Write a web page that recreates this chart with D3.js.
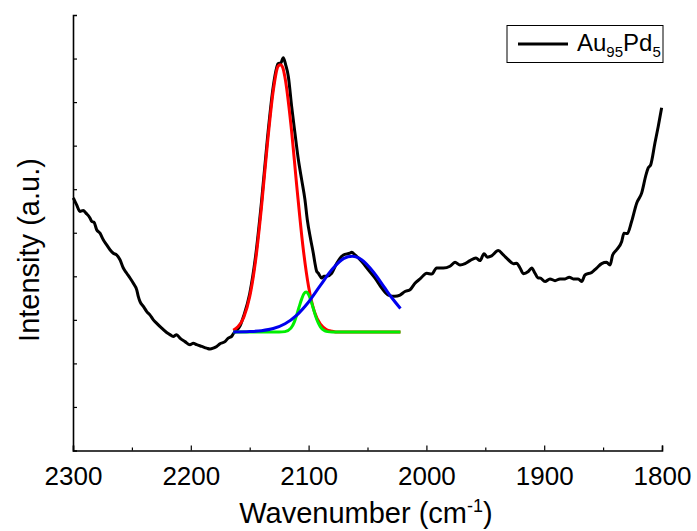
<!DOCTYPE html>
<html>
<head>
<meta charset="utf-8">
<script src="https://cdn.jsdelivr.net/npm/d3@7"></script>
<style>
  html, body { margin: 0; padding: 0; background: #fff; }
  svg { display: block; font-family: "Liberation Sans", Arial, sans-serif; }
</style>
</head>
<body>
<svg id="chart" width="697" height="531"></svg>
<script>
// Measured IR spectrum of CO adsorbed on Au95Pd5: [wavenumber (cm-1), intensity (a.u.)]
const spectrum = [
  [2299.7,58.0],[2296.9,56.4],[2294.1,54.9],[2291.3,55.1],[2289.0,54.5],[2285.6,53.4],
  [2284.1,52.6],[2282.2,52.4],[2279.9,50.7],[2277.1,49.9],[2274.3,48.4],[2271.4,47.2],
  [2268.6,46.1],[2265.8,45.3],[2262.9,44.9],[2260.1,43.8],[2257.3,41.9],[2254.4,40.7],
  [2251.6,39.6],[2248.8,38.4],[2245.9,36.9],[2244.6,35.4],[2243.1,34.2],[2240.3,33.1],
  [2237.4,31.9],[2234.6,31.1],[2231.8,30.0],[2228.9,29.2],[2224.7,28.1],[2220.5,27.1],
  [2217.7,26.6],[2214.9,26.2],[2212.0,26.6],[2209.2,25.8],[2204.9,25.0],[2200.7,24.3],
  [2197.9,24.6],[2195.0,24.3],[2190.7,23.9],[2186.5,23.5],[2183.7,23.3],[2180.9,23.5],
  [2178.0,23.9],[2175.2,24.5],[2171.0,25.0],[2168.2,25.8],[2165.3,26.2],[2163.9,26.8],
  [2158.2,28.6],[2155.0,31.0],[2150.0,36.0],[2145.0,44.6],[2140.0,57.0],[2135.0,71.5],
  [2130.0,83.6],[2126.0,88.8],[2123.5,89.0],[2121.5,90.2],[2119.5,88.6],[2117.2,85.9],
  [2114.4,79.0],[2111.6,72.9],[2108.7,66.8],[2105.9,62.2],[2103.1,57.6],[2101.1,53.0],
  [2098.2,48.4],[2096.0,45.3],[2094.6,43.0],[2093.2,41.2],[2091.7,40.7],[2088.9,39.6],
  [2086.9,40.0],[2084.6,40.0],[2080.4,40.7],[2076.1,43.0],[2070.5,44.9],[2064.9,45.3],
  [2063.4,45.5],[2060.6,44.9],[2054.9,43.4],[2049.3,41.5],[2043.6,39.6],[2037.9,37.3],
  [2032.3,35.7],[2026.7,35.4],[2022.4,35.7],[2018.2,36.5],[2013.9,36.9],[2009.7,38.4],
  [2005.4,39.4],[1999.7,40.7],[1995.5,40.5],[1991.3,41.9],[1985.6,41.9],[1980.0,42.3],
  [1975.7,43.2],[1971.5,42.6],[1967.2,42.9],[1963.0,43.6],[1957.9,44.2],[1954.5,43.6],
  [1951.1,45.2],[1948.3,44.4],[1944.6,44.7],[1939.0,45.9],[1934.7,44.9],[1930.5,43.8],
  [1926.2,42.9],[1923.4,43.0],[1920.5,41.9],[1917.7,40.6],[1913.5,41.1],[1910.6,41.9],
  [1907.8,40.7],[1905.0,39.6],[1903.6,39.6],[1899.3,38.8],[1895.1,39.4],[1890.8,39.0],
  [1886.6,39.4],[1882.3,39.4],[1878.7,39.8],[1875.3,39.4],[1871.1,39.4],[1868.2,38.8],
  [1865.4,40.3],[1859.7,40.9],[1855.5,41.9],[1851.2,42.9],[1847.0,43.2],[1844.1,42.6],
  [1841.9,44.9],[1838.5,46.1],[1834.2,48.0],[1832.3,49.9],[1829.5,49.8],[1825.8,52.6],
  [1821.5,56.8],[1817.3,59.1],[1813.6,63.3],[1811.7,64.9],[1809.6,65.6],[1806.0,70.6],
  [1803.2,74.4],[1800.3,78.7]
];

// Fitted component at ~2124 cm-1 (red)
const fitPeak1 = [
  [2164,27.6],[2160,28.4],[2155,30.6],[2150,35.3],[2145,43.6],[2140,55.9],[2135,70.3],
  [2130,82.6],[2126,88.2],[2124,88.6],[2122,88.0],[2120,85.6],[2115,74.8],[2110,60.6],
  [2105,47.3],[2100,37.6],[2095,31.8],[2090,29.0],[2085,27.8],[2080,27.4],[2075,27.2],
  [2022,27.2]
];

// Fitted component at ~2102 cm-1 (green)
const fitPeak2 = [
  [2164,27.2],[2125,27.2],[2120,27.3],[2115,28.1],[2112,29.6],[2110,31.2],[2108,33.0],
  [2106,34.7],[2104,36.0],[2102,36.4],[2100,35.8],[2098,34.4],[2096,32.6],[2094,30.8],
  [2092,29.4],[2090,28.4],[2087,27.6],[2084,27.3],[2080,27.2],[2022,27.2]
];

// Fitted component at ~2063 cm-1 (blue)
const fitPeak3 = [
  [2164,27.2],[2150,27.3],[2140,27.5],[2130,28.0],[2120,29.1],[2110,31.1],[2100,34.1],
  [2090,37.9],[2080,41.6],[2070,44.1],[2063,44.6],[2055,43.8],[2045,41.0],[2035,37.2],
  [2030,35.3],[2022,32.6]
];

const xTicks = [2300, 2200, 2100, 2000, 1900, 1800];
const xMinorTicks = [2250, 2150, 2050, 1950, 1850];
const yTicks = [10, 20, 30, 40, 50, 60, 70, 80, 90];
const legendLabel = { main: "Au", sub1: "95", mid: "Pd", sub2: "5" };

const svg = d3.select("#chart");
const margin = { left: 73, right: 35, top: 15, bottom: 80.5 };
const W = 697, H = 531;

const x = d3.scaleLinear().domain([2300, 1800]).range([margin.left, W - margin.right]);
const y = d3.scaleLinear().domain([0, 100]).range([H - margin.bottom, margin.top]);

const line = d3.line()
  .x(d => x(d[0]))
  .y(d => y(d[1]))
  .curve(d3.curveMonotoneX);

// spectrum and fitted components
svg.append("path").datum(spectrum)
  .attr("d", line).attr("fill", "none")
  .attr("stroke", "#000").attr("stroke-width", 3).attr("stroke-linejoin", "round");

const fits = [
  { data: fitPeak1, color: "#ff0000" },
  { data: fitPeak2, color: "#00ee00" },
  { data: fitPeak3, color: "#0000ee" }
];
fits.forEach(f => {
  svg.append("path").datum(f.data)
    .attr("d", line).attr("fill", "none")
    .attr("stroke", f.color).attr("stroke-width", 3).attr("stroke-linejoin", "round");
});

// axes
const xAxis = d3.axisBottom(x).tickValues(xTicks).tickSize(-5).tickPadding(16)
  .tickFormat(d3.format("d"));
const gx = svg.append("g").attr("transform", `translate(0,${y(0)})`).call(xAxis);
gx.select(".domain").attr("stroke", "#000").attr("stroke-width", 1.6);
gx.selectAll(".tick line").attr("stroke", "#000").attr("stroke-width", 1.2);
gx.selectAll(".tick text").attr("font-size", 26).attr("fill", "#000")
  .attr("font-family", "'Liberation Sans', Arial, sans-serif");

const gxm = svg.append("g").attr("transform", `translate(0,${y(0)})`)
  .call(d3.axisBottom(x).tickValues(xMinorTicks).tickSize(-3).tickFormat(""));
gxm.select(".domain").remove();
gxm.selectAll(".tick line").attr("stroke", "#000").attr("stroke-width", 1.2);

const yAxis = d3.axisLeft(y).tickValues(yTicks).tickSize(-4).tickFormat("");
const gy = svg.append("g").attr("transform", `translate(${x(2300)},0)`).call(yAxis);
gy.select(".domain").attr("stroke", "#000").attr("stroke-width", 1.6);
gy.selectAll(".tick line").attr("stroke", "#000").attr("stroke-width", 1.2);

// axis titles
const xt = svg.append("text")
  .attr("x", 366).attr("y", 523)
  .attr("text-anchor", "middle").attr("font-size", 29).attr("fill", "#000");
xt.append("tspan").text("Wavenumber (cm");
xt.append("tspan").text("-1").attr("font-size", 18).attr("dy", -11);
xt.append("tspan").text(")").attr("dy", 11);

svg.append("text")
  .attr("transform", "translate(39,250) rotate(-90)")
  .attr("text-anchor", "middle").attr("font-size", 29).attr("fill", "#000")
  .text("Intensity (a.u.)");

// legend
const lg = svg.append("g");
lg.append("rect").attr("x", 507).attr("y", 25.5).attr("width", 156).attr("height", 37)
  .attr("fill", "#fff").attr("stroke", "#000").attr("stroke-width", 1);
lg.append("line").attr("x1", 518).attr("x2", 568).attr("y1", 44).attr("y2", 44)
  .attr("stroke", "#000").attr("stroke-width", 3);
const lt = lg.append("text").attr("x", 577).attr("y", 51).attr("font-size", 24).attr("fill", "#000");
lt.append("tspan").text(legendLabel.main);
lt.append("tspan").text(legendLabel.sub1).attr("font-size", 15).attr("dy", 6);
lt.append("tspan").text(legendLabel.mid).attr("dy", -6);
lt.append("tspan").text(legendLabel.sub2).attr("font-size", 15).attr("dy", 6);
</script>
</body>
</html>
